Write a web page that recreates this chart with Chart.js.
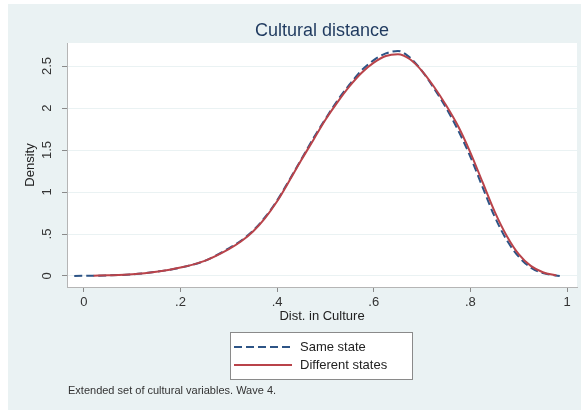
<!DOCTYPE html>
<html><head><meta charset="utf-8">
<style>html,body{margin:0;padding:0;background:#fff}canvas{display:block}</style>
<script src="https://cdn.jsdelivr.net/npm/chart.js@4.4.1/dist/chart.umd.min.js"></script>
</head><body>
<canvas id="c" width="581" height="413"></canvas>
<script>
const titleText = 'Cultural distance';
const xAxisTitle = 'Dist. in Culture';
const yAxisTitle = 'Density';
const footnote = 'Extended set of cultural variables. Wave 4.';
const seriesNames = ['Same state', 'Different states'];
const xTicks = [0, 0.2, 0.4, 0.6, 0.8, 1];
const xTickLabels = ['0', '.2', '.4', '.6', '.8', '1'];
const yTicks = [0, 0.5, 1, 1.5, 2, 2.5];
const yTickLabels = ['0', '.5', '1', '1.5', '2', '2.5'];

const sameX = [-0.02, 0.00, 0.05, 0.10, 0.15, 0.20, 0.25, 0.30, 0.325, 0.35, 0.375, 0.40, 0.425, 0.45, 0.475, 0.50, 0.525, 0.55, 0.575, 0.60, 0.625, 0.65, 0.675, 0.70, 0.725, 0.75, 0.775, 0.80, 0.825, 0.85, 0.875, 0.90, 0.925, 0.95, 0.985];
const sameY = [0.0, 0.002, 0.007, 0.02, 0.05, 0.10, 0.18, 0.33, 0.42, 0.54, 0.70, 0.90, 1.14, 1.39, 1.64, 1.87, 2.09, 2.28, 2.45, 2.57, 2.65, 2.68, 2.60, 2.44, 2.23, 2.00, 1.73, 1.42, 1.06, 0.71, 0.43, 0.23, 0.10, 0.035, 0.0];

const diffX = [0.02, 0.05, 0.10, 0.15, 0.20, 0.25, 0.30, 0.325, 0.35, 0.375, 0.40, 0.425, 0.45, 0.475, 0.50, 0.525, 0.55, 0.575, 0.60, 0.625, 0.65, 0.675, 0.70, 0.725, 0.75, 0.775, 0.80, 0.825, 0.85, 0.875, 0.90, 0.925, 0.95, 0.978];
const diffY = [0.004, 0.008, 0.02, 0.05, 0.10, 0.18, 0.32, 0.41, 0.53, 0.69, 0.89, 1.13, 1.38, 1.62, 1.86, 2.07, 2.26, 2.42, 2.54, 2.62, 2.64, 2.58, 2.44, 2.25, 2.03, 1.78, 1.47, 1.12, 0.77, 0.48, 0.26, 0.12, 0.045, 0.005];

const FONT = '"Liberation Sans", Arial, sans-serif';
const toPts = (xs, ys) => xs.map((x, i) => ({x: x, y: ys[i]}));

const decor = {
  id: 'decor',
  beforeDraw(chart) {
    const ctx = chart.ctx, a = chart.chartArea;
    ctx.save();
    ctx.fillStyle = '#ffffff';
    ctx.fillRect(0, 0, chart.width, chart.height);
    ctx.fillStyle = '#eaf2f3';
    ctx.fillRect(8, 4, chart.width - 8, 406);
    ctx.fillStyle = '#ffffff';
    ctx.fillRect(a.left, a.top, a.right - a.left, a.bottom - a.top);
    ctx.restore();
  },
  afterDraw(chart) {
    const ctx = chart.ctx;
    ctx.save();
    ctx.fillStyle = '#1f3a5f';
    ctx.font = '18px ' + FONT;
    ctx.textAlign = 'center';
    ctx.textBaseline = 'middle';
    ctx.fillText(titleText, 322, 31);
    ctx.fillStyle = '#ffffff';
    ctx.fillRect(230.5, 332.5, 182, 47);
    ctx.strokeStyle = '#8a8a8a';
    ctx.lineWidth = 1;
    ctx.strokeRect(230.5, 332.5, 182, 47);
    const rows = [347, 365];
    chart.data.datasets.forEach((ds, i) => {
      ctx.strokeStyle = ds.borderColor;
      ctx.lineWidth = ds.borderWidth;
      ctx.setLineDash(ds.borderDash || []);
      ctx.beginPath();
      ctx.moveTo(234, rows[i]);
      ctx.lineTo(292, rows[i]);
      ctx.stroke();
      ctx.setLineDash([]);
      ctx.fillStyle = '#222222';
      ctx.font = '13px ' + FONT;
      ctx.textAlign = 'left';
      ctx.textBaseline = 'middle';
      ctx.fillText(ds.label, 300, rows[i]);
    });
    ctx.fillStyle = '#333333';
    ctx.font = '11px ' + FONT;
    ctx.textAlign = 'left';
    ctx.textBaseline = 'middle';
    ctx.fillText(footnote, 68, 391);
    ctx.restore();
  }
};

new Chart(document.getElementById('c'), {
  type: 'line',
  data: {
    datasets: [
      {label: seriesNames[0], data: toPts(sameX, sameY), borderColor: '#2d5486', borderWidth: 2, borderDash: [8, 4], pointRadius: 0, fill: false, cubicInterpolationMode: 'monotone', order: 2},
      {label: seriesNames[1], data: toPts(diffX, diffY), borderColor: '#b9434a', borderWidth: 2, pointRadius: 0, fill: false, cubicInterpolationMode: 'monotone', order: 1}
    ]
  },
  options: {
    responsive: false,
    animation: false,
    events: [],
    layout: {padding: {left: 0, right: 4, top: 43, bottom: 86}},
    plugins: {legend: {display: false}, title: {display: false}, tooltip: {enabled: false}},
    scales: {
      x: {
        type: 'linear', min: -0.035, max: 1.0207,
        afterBuildTicks: s => { s.ticks = xTicks.map(v => ({value: v})); },
        afterFit: s => { s.height = 40; },
        ticks: {
          padding: 3, color: '#333333', font: {family: FONT, size: 13},
          callback: v => { const i = xTicks.indexOf(v); return i >= 0 ? xTickLabels[i] : ''; }
        },
        grid: {drawOnChartArea: false, drawTicks: true, tickLength: 5, tickColor: '#8a8a8a'},
        border: {display: true, color: '#b5b5b5', width: 1},
        title: {display: true, text: xAxisTitle, color: '#222222', font: {family: FONT, size: 13}, padding: {top: 0, bottom: 3}}
      },
      y: {
        type: 'linear', min: -0.131, max: 2.774,
        afterBuildTicks: s => { s.ticks = yTicks.map(v => ({value: v})); },
        afterFit: s => { s.width = 67; },
        ticks: {
          padding: 6, color: '#333333', font: {family: FONT, size: 13},
          minRotation: 90, maxRotation: 90, crossAlign: 'center',
          callback: v => { const i = yTicks.indexOf(v); return i >= 0 ? yTickLabels[i] : ''; }
        },
        grid: {drawOnChartArea: true, color: '#eaf2f3', lineWidth: 1, drawTicks: true, tickLength: 5, tickColor: '#8a8a8a'},
        border: {display: true, color: '#b5b5b5', width: 1},
        title: {display: true, text: yAxisTitle, color: '#222222', font: {family: FONT, size: 13}, padding: {top: 23, bottom: 0}}
      }
    }
  },
  plugins: [decor]
});
</script>
</body></html>
